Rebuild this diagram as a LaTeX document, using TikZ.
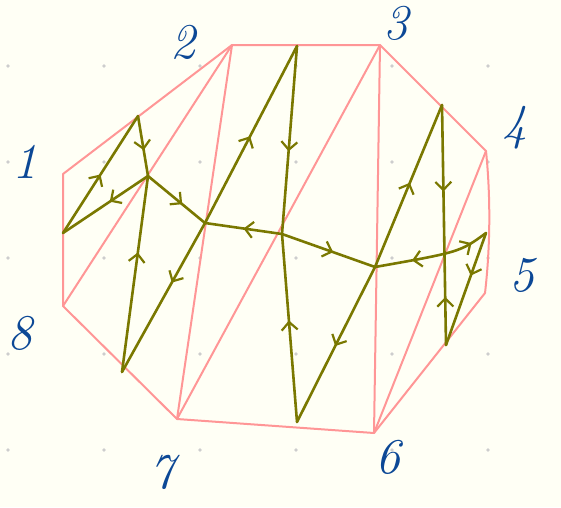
\documentclass[tikz,border=0pt]{standalone}
\usetikzlibrary{arrows.meta,decorations.markings}

\definecolor{paper}{RGB}{255,255,245}
\definecolor{edgepink}{RGB}{255,150,150}
\definecolor{dualolive}{RGB}{122,120,0}
\definecolor{inkblue}{RGB}{12,72,150}
\definecolor{dotgray}{RGB}{205,205,205}

\begin{document}
\begin{tikzpicture}[
    x=1pt, y=-1pt,
    polyedge/.style={
        draw=edgepink,
        line width=2pt,
        line join=round
    },
    dual/.style={
        draw=dualolive,
        line width=2.6pt,
        line cap=round
    },
    fwd/.style={
        postaction={decorate, decoration={markings,
            mark=at position #1 with {\arrow{Straight Barb[length=8pt,width=16pt,line width=2.2pt]}}}}
    },
    bwd/.style={
        postaction={decorate, decoration={markings,
            mark=at position #1 with {\arrowreversed{Straight Barb[length=8pt,width=16pt,line width=2.2pt]}}}}
    },
    vlabel/.style={
        text=inkblue,
        font=\fontsize{50}{50}\selectfont\itshape,
        inner sep=0pt
    }
]

% Paper and dot grid
\fill[paper] (0,0) rectangle (561,507);
\useasboundingbox (0,0) rectangle (561,507);
\foreach \gx in {8,104,...,488} {
    \foreach \gy in {66,162,...,450} {
        \fill[dotgray] (\gx,\gy) circle (1.8pt);
    }
}

% Octagon corners
\coordinate (v1) at (63,174);
\coordinate (v2) at (232,45);
\coordinate (v3) at (380,45);
\coordinate (v4) at (486,151);
\coordinate (v5) at (485,293);
\coordinate (v6) at (374,433);
\coordinate (v7) at (177,419);
\coordinate (v8) at (63,306);

% Octagon and triangulation
\draw[polyedge] (v1) -- (v2) -- (v3) -- (v4)
    .. controls (491,200) and (490,250) .. (v5) -- (v6) -- (v7) -- (v8) -- cycle;
\draw[polyedge] (v8) -- (v2);
\draw[polyedge] (v2) -- (v7);
\draw[polyedge] (v7) -- (v3);
\draw[polyedge] (v3) -- (v6);
\draw[polyedge] (v6) -- (v4);

% Points of the olive paths
\coordinate (a) at (138,116);
\coordinate (b) at (148,176);
\coordinate (c) at (63,233);
\coordinate (d) at (205,223);
\coordinate (e) at (282,234);
\coordinate (f) at (375,267);
\coordinate (g) at (486,233);
\coordinate (h) at (442,105);
\coordinate (i) at (446,345);
\coordinate (j) at (297,46);
\coordinate (k) at (297,422);
\coordinate (l) at (122,372);

% Olive paths
\draw[dual, fwd=0.5] (c) -- (a);
\draw[dual, fwd=0.57] (a) -- (b);
\draw[dual, fwd=0.45] (b) -- (c);
\draw[dual, fwd=0.6] (b) -- (d);
\draw[dual, fwd=0.61] (l) -- (b);
\draw[dual, fwd=0.5] (e) -- (d);
\draw[dual, fwd=0.49] (d) -- (j);
\draw[dual, fwd=0.4] (d) -- (l);
\draw[dual, fwd=0.56] (j) -- (e);
\draw[dual, fwd=0.54] (k) -- (e);
\draw[dual, fwd=0.55] (e) -- (f);
\draw[dual, fwd=0.51] (f) -- (k);
\draw[dual, fwd=0.52] (f) -- (h);
\draw[dual, fwd=0.36, bwd=0.8] (h) -- (i);
\draw[dual, bwd=0.32, fwd=0.85] (f) .. controls (460,252) .. (g);
\draw[dual, fwd=0.38] (g) -- (i);

% Corner numbers
\node[vlabel] (n1) at (25,162) {1};
\node[vlabel] (n2) at (183,42) {2};
\node[vlabel] (n3) at (396,23) {3};
\node[vlabel] (n4) at (515,128) {4};
\node[vlabel] (n5) at (522,275) {5};
\node[vlabel] (n6) at (388,457) {6};
\node[vlabel] (n7) at (162,472) {7};
\node[vlabel] (n8) at (20,333) {8};

\end{tikzpicture}
\end{document}
